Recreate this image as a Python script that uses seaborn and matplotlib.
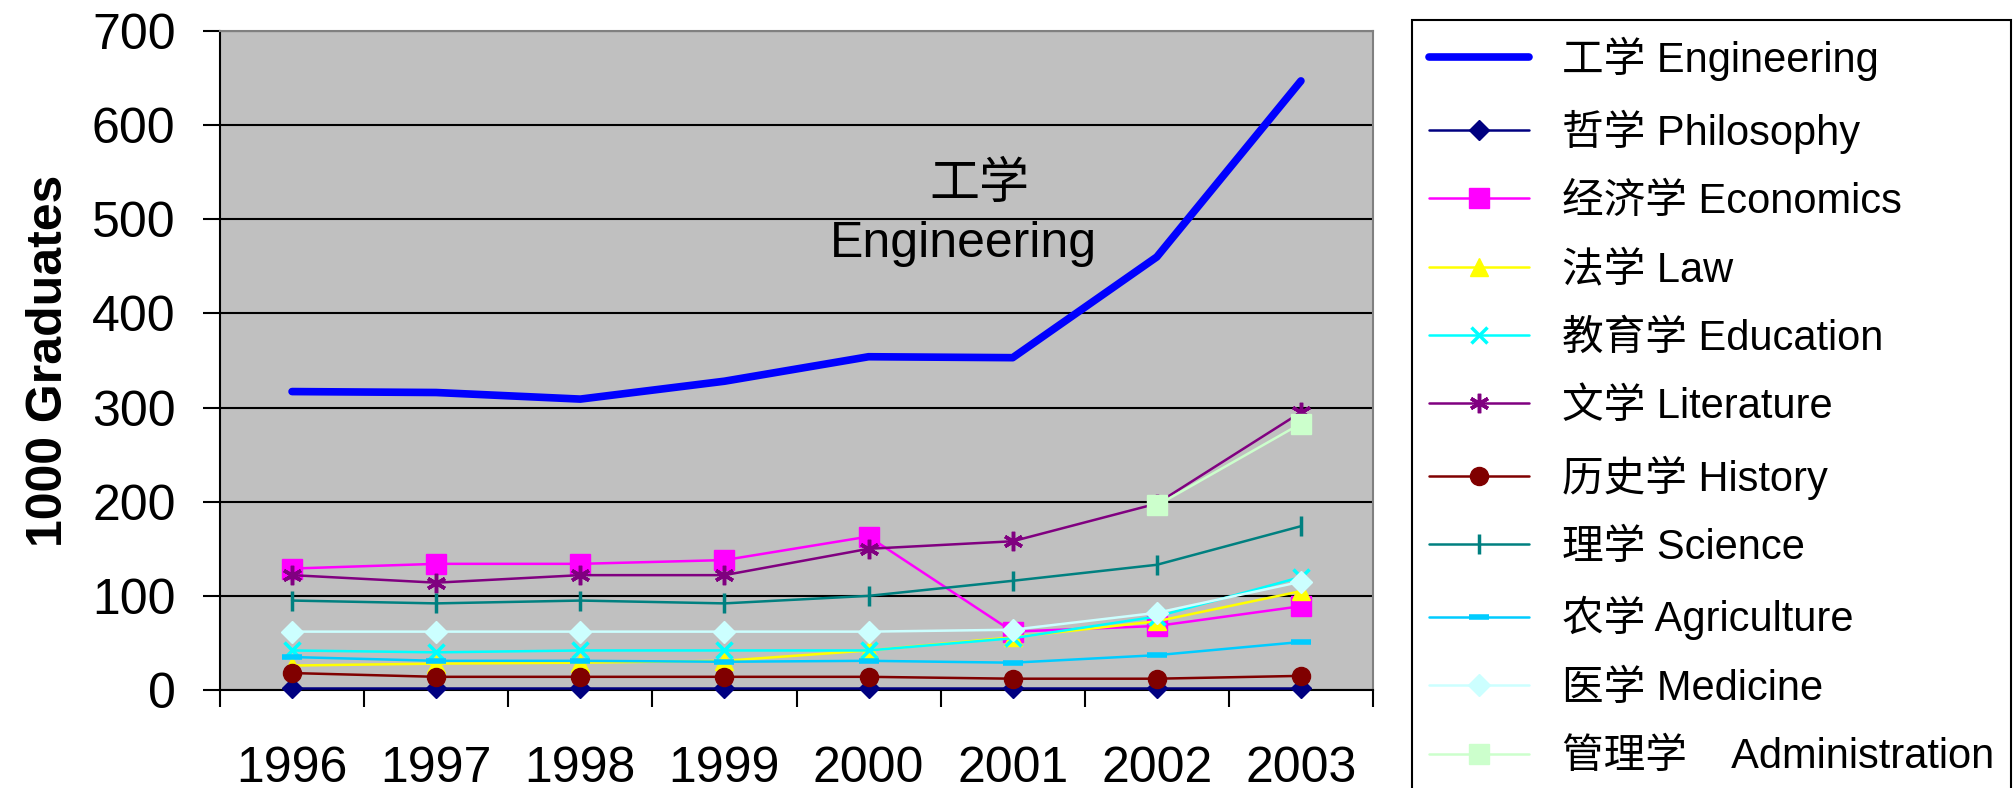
import numpy as np
import matplotlib
matplotlib.use('Agg')
import matplotlib.pyplot as plt
import seaborn as sns

# Datos (miles de graduados por disciplina)
years = [1996, 1997, 1998, 1999, 2000, 2001, 2002, 2003]
engineering = [317, 316, 309, 328, 354, 353, 460, 647]
philosophy = [2, 2, 2, 2, 2, 2, 2, 2]
economics = [129, 134, 134, 138, 163, 62, 68, 89]
law = [26, 28, 29, 31, 42, 56, 73, 105]
education = [42, 40, 42, 42, 42, 55, 78, 120]
literature = [122, 114, 122, 122, 150, 158, 198, 295]
history = [18, 14, 14, 14, 14, 12, 12, 15]
science = [95, 92, 95, 92, 100, 116, 133, 174]
agriculture = [35, 31, 31, 30, 31, 29, 37, 51]
medicine = [62, 62, 62, 62, 62, 64, 82, 115]
administration = [np.nan, np.nan, np.nan, np.nan, np.nan, np.nan, 196, 283]

labels = ['工学 Engineering', '哲学 Philosophy', '经济学 Economics', '法学 Law',
          '教育学 Education', '文学 Literature', '历史学 History', '理学 Science',
          '农学 Agriculture', '医学 Medicine', '管理学    Administration']

sns.set_style('ticks')
plt.rcParams['font.family'] = ['Liberation Sans', 'Noto Sans CJK SC']
plt.rcParams['text.color'] = 'black'
plt.rcParams['axes.labelcolor'] = 'black'
plt.rcParams['xtick.color'] = 'black'
plt.rcParams['ytick.color'] = 'black'

fig = plt.figure(figsize=(20.15, 7.88), dpi=100)
ax = fig.add_axes([220 / 2015, 1 - 690 / 788, (1373 - 220) / 2015, (690 - 31) / 788])

# estilo de cada serie: (valores, color, marcador, tamaño, ancho de línea)
series = [
    (engineering, '#0000FF', None, 0, 5.5),
    (philosophy, '#000080', 'D', 10.5, 1.8),
    (economics, '#FF00FF', 's', 14, 1.8),
    (law, '#FFFF00', '^', 13, 1.8),
    (education, '#00FFFF', 'x', 11, 1.8),
    (literature, '#800080', (6, 2, 0), 14, 1.8),
    (history, '#800000', 'o', 13, 1.8),
    (science, '#008080', '|', 14, 1.8),
    (agriculture, '#00CCFF', '_', 14, 1.8),
    (medicine, '#CCFFFF', 'D', 11, 1.8),
    (administration, '#CCFFCC', 's', 14, 1.8),
]

for (vals, col, mk, ms, lw), lab in zip(series, labels):
    mew = 2.5 if mk in ('x', '|', '_', (6, 2, 0)) else 1
    if mk == '_':
        mew = 4
    sns.lineplot(x=years, y=vals, ax=ax, color=col, marker=mk, markersize=ms,
                 markeredgecolor=col, markeredgewidth=mew, linewidth=lw,
                 label=lab, errorbar=None, legend=False, clip_on=False, zorder=3)

ax.set_facecolor('#C0C0C0')
ax.set_xlim(1995.5, 2003.5)
ax.set_ylim(0, 700)
ax.set_yticks(range(0, 701, 100))
ax.yaxis.grid(True, color='black', linewidth=1.5)
ax.set_axisbelow(True)

ax.set_xticks(years)
ax.set_xticklabels([str(y) for y in years], fontsize=36)
ax.set_xticks(np.arange(1995.5, 2004, 1), minor=True)
ax.tick_params(axis='x', which='major', length=0, pad=40)
ax.tick_params(axis='x', which='minor', length=12, width=1.5, color='black', direction='out')
ax.tick_params(axis='y', which='major', length=12, width=1.5, color='black',
               direction='out', labelsize=36, pad=20)

for s in ['top', 'right']:
    ax.spines[s].set_color('#808080')
    ax.spines[s].set_linewidth(1.5)
for s in ['left', 'bottom']:
    ax.spines[s].set_color('black')
    ax.spines[s].set_linewidth(1.5)

ax.set_xlabel('')
ax.set_ylabel('1000 Graduates', fontsize=36, fontweight='bold', labelpad=14)

# anotación de Engineering
ax.text(2000.77, 536, '工学', fontsize=36, ha='center', va='center', color='black')
ax.text(2000.66, 474, 'Engineering', fontsize=36, ha='center', va='center', color='black')

handles, labs = ax.get_legend_handles_labels()
leg = fig.legend(handles, labs, loc='upper left',
                 bbox_to_anchor=(1412 / 2015, 1 - 20 / 788), bbox_transform=fig.transFigure,
                 frameon=True, fancybox=False, edgecolor='black', framealpha=1,
                 borderpad=0.4, borderaxespad=0, handlelength=2.4, handletextpad=0.8,
                 labelspacing=0.68, fontsize=30)
leg.get_frame().set_linewidth(1.5)

plt.savefig('out.png', dpi=100)
